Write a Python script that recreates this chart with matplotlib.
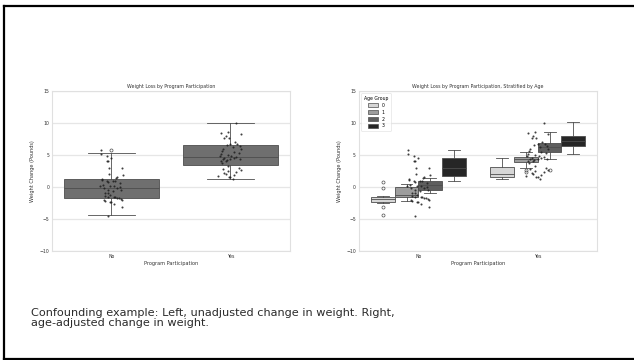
import numpy as np
import matplotlib
matplotlib.use('Agg')
import matplotlib.pyplot as plt
from matplotlib.lines import Line2D
from matplotlib.patches import Patch

# Programa de pèrdua de pes: valors llegits de la imatge
groups     = ['No', 'Yes']
age_groups = ['0', '1', '2', '3']

# Punts individuals (canvi de pes) i desplaçament horitzontal (jitter) per grup
no_vals = [5.8, 5.2, 4.9, 4.6, 4.1, 4.0, 3.0, 2.9, 1.9, 2.0, 1.5, 1.4, 1.2, 1.1,
           1.0, 0.9, 0.9, 0.8, 0.6, 0.3, 0.2, 0.2, 0.1, 0.0, -0.1, -0.2, -0.4,
           -0.5, -0.7, -0.9, -1.0, -1.3, -1.4, -1.5, -1.6, -1.6, -1.7, -1.8,
           -1.9, -2.0, -2.1, -2.2, -2.3, -2.4, -2.6, -3.2, -4.5]
no_jit  = [-0.09, -0.09, -0.04, 0.00, -0.04, -0.03, 0.09, -0.02, 0.10, -0.02,
           0.05, 0.04, -0.08, -0.08, -0.04, 0.01, 0.03, -0.03, 0.07, -0.07,
           -0.10, -0.01, 0.02, 0.07, -0.06, 0.05, -0.03, 0.08, 0.01, -0.05,
           -0.03, -0.01, -0.05, 0.02, -0.03, 0.03, 0.06, 0.05, 0.08, -0.06,
           0.09, -0.05, -0.01, 0.00, 0.02, 0.09, -0.03]
yes_vals = [10.0, 8.6, 8.4, 8.3, 7.9, 7.7, 7.6, 7.0, 6.8, 6.7, 6.6, 6.4, 6.2,
            6.0, 5.9, 5.6, 5.5, 5.3, 5.1, 5.0, 4.9, 4.8, 4.7, 4.6, 4.5, 4.4,
            4.4, 4.3, 4.2, 4.1, 4.0, 3.8, 3.3, 3.0, 2.8, 2.7, 2.5, 2.4, 2.2,
            2.0, 1.8, 1.7, 1.6, 1.5, 1.2]
yes_jit  = [0.05, -0.02, -0.08, 0.09, -0.04, -0.01, -0.05, 0.04, 0.00, 0.06,
            -0.03, 0.08, 0.02, -0.06, 0.09, -0.07, 0.03, 0.07, -0.08, -0.02,
            0.01, -0.09, 0.05, -0.05, 0.03, 0.00, -0.06, 0.08, -0.03, -0.08,
            -0.04, -0.07, -0.02, 0.07, -0.06, 0.09, -0.02, 0.05, -0.05, -0.04,
            0.03, -0.10, 0.00, -0.01, 0.02]

# Estadístics dels boxplots sense estratificar (No, Yes)
left_lo   = [-4.45, 1.2]
left_q1   = [-1.65, 3.45]
left_med  = [-0.1, 4.75]
left_q3   = [1.3, 6.5]
left_hi   = [5.25, 10.0]
left_fli  = [[5.85], []]

# Estadístics estratificats per edat: [No-0, No-1, No-2, No-3, Yes-0, Yes-1, Yes-2, Yes-3]
right_lo  = [-2.55, -2.25, -1.0, 0.9, 1.25, 3.0, 4.45, 5.1]
right_q1  = [-2.3, -1.5, -0.45, 1.7, 1.6, 3.85, 5.5, 6.45]
right_med = [-1.95, -1.2, 0.3, 3.0, 2.0, 4.3, 6.2, 7.2]
right_q3  = [-1.6, 0.05, 1.0, 4.5, 3.05, 4.65, 6.85, 8.0]
right_hi  = [-1.4, 0.45, 1.35, 5.85, 4.5, 5.5, 8.55, 10.1]
right_fli = [[0.85, -0.2, -3.1, -4.4], [], [], [], [], [2.4, 2.6], [2.65], []]

age_colors = ['#d6d6d6', '#9d9d9d', '#5e5e5e', '#262626']
line_col   = '#4d4d4d'
txt_col    = '#333333'
fs = 3.3

fig = plt.figure(figsize=(6.34, 3.6), dpi=100)


def make_stats(lo, q1, med, q3, hi, fli):
    return [dict(whislo=a, q1=b, med=c, q3=d, whishi=e, fliers=f)
            for a, b, c, d, e, f in zip(lo, q1, med, q3, hi, fli)]


def style_axes(ax, title):
    ax.set_ylim(-10, 15)
    ax.set_xlim(-0.5, 1.5)
    ax.set_yticks([-10, -5, 0, 5, 10, 15])
    ax.set_xticks([0, 1])
    ax.set_xticklabels(groups)
    ax.tick_params(length=0, labelsize=fs, colors=txt_col, pad=2)
    ax.yaxis.grid(True, color='#e6e6e6', linewidth=0.9)
    ax.set_axisbelow(True)
    for sp in ax.spines.values():
        sp.set_color('#e0e0e0')
        sp.set_linewidth(0.8)
    ax.set_title(title, fontsize=fs + 0.1, color=txt_col, pad=2)
    ax.set_xlabel('Program Participation', fontsize=fs + 0.3, color=txt_col, labelpad=2)
    ax.set_ylabel('Weight Change (Pounds)', fontsize=fs + 0.3, color=txt_col, labelpad=3)


def draw_strip(ax):
    ax.scatter(np.array(no_jit), no_vals, s=2.2, color='#1e1e1e', alpha=0.85,
               linewidths=0, zorder=4)
    ax.scatter(1 + np.array(yes_jit), yes_vals, s=2.2, color='#1e1e1e', alpha=0.85,
               linewidths=0, zorder=4)


box_kw = dict(patch_artist=True,
              whiskerprops=dict(color=line_col, linewidth=0.6),
              capprops=dict(color=line_col, linewidth=0.6),
              medianprops=dict(color=line_col, linewidth=0.6),
              flierprops=dict(marker='o', markersize=2.2, markerfacecolor='none',
                              markeredgecolor=line_col, markeredgewidth=0.5))

# Gràfic esquerre — sense ajustar
ax1 = fig.add_axes([0.082, 0.303, 0.375, 0.444])
bp = ax1.bxp(make_stats(left_lo, left_q1, left_med, left_q3, left_hi, left_fli),
             positions=[0, 1], widths=0.8, capwidths=0.4, **box_kw)
for b in bp['boxes']:
    b.set_facecolor('#6f6f6f')
    b.set_edgecolor(line_col)
    b.set_linewidth(0.6)
draw_strip(ax1)
style_axes(ax1, 'Weight Loss by Program Participation')

# Gràfic dret — estratificat per edat
ax2 = fig.add_axes([0.566, 0.303, 0.376, 0.444])
offsets = [-0.3, -0.1, 0.1, 0.3]
positions = [g + o for g in range(len(groups)) for o in offsets]
bp = ax2.bxp(make_stats(right_lo, right_q1, right_med, right_q3, right_hi, right_fli),
             positions=positions, widths=0.2, capwidths=0.1, **box_kw)
for i, b in enumerate(bp['boxes']):
    b.set_facecolor(age_colors[i % 4])
    b.set_edgecolor(line_col)
    b.set_linewidth(0.6)
draw_strip(ax2)
style_axes(ax2, 'Weight Loss by Program Participation, Stratified by Age')
handles = [Patch(facecolor=c, edgecolor=line_col, linewidth=0.5) for c in age_colors]
leg = ax2.legend(handles, age_groups, title='Age Group', loc='upper left',
                 fontsize=fs, title_fontsize=fs, frameon=True, handlelength=2.2,
                 handleheight=0.9, borderpad=0.6, labelspacing=0.4)
leg.get_frame().set_edgecolor('#dddddd')
leg.get_frame().set_linewidth(0.5)

# Marc de la diapositiva i peu de figura
fig.add_artist(Line2D([4 / 634, 4 / 634], [1 - 6 / 360, 1 / 360], transform=fig.transFigure,
                      color='black', linewidth=1.6))
fig.add_artist(Line2D([4 / 634, 1.0], [1 - 6 / 360, 1 - 6 / 360], transform=fig.transFigure,
                      color='black', linewidth=1.6))
fig.add_artist(Line2D([4 / 634, 1.0], [1 / 360, 1 / 360], transform=fig.transFigure,
                      color='black', linewidth=1.6))

fig.text(31 / 634, 1 - 308 / 360,
         'Confounding example: Left, unadjusted change in weight. Right,\nage-adjusted change in weight.',
         fontsize=8.1, family='DejaVu Sans', color='#2a2a2a', linespacing=1.05, va='top')

fig.savefig('out.png', dpi=100)
